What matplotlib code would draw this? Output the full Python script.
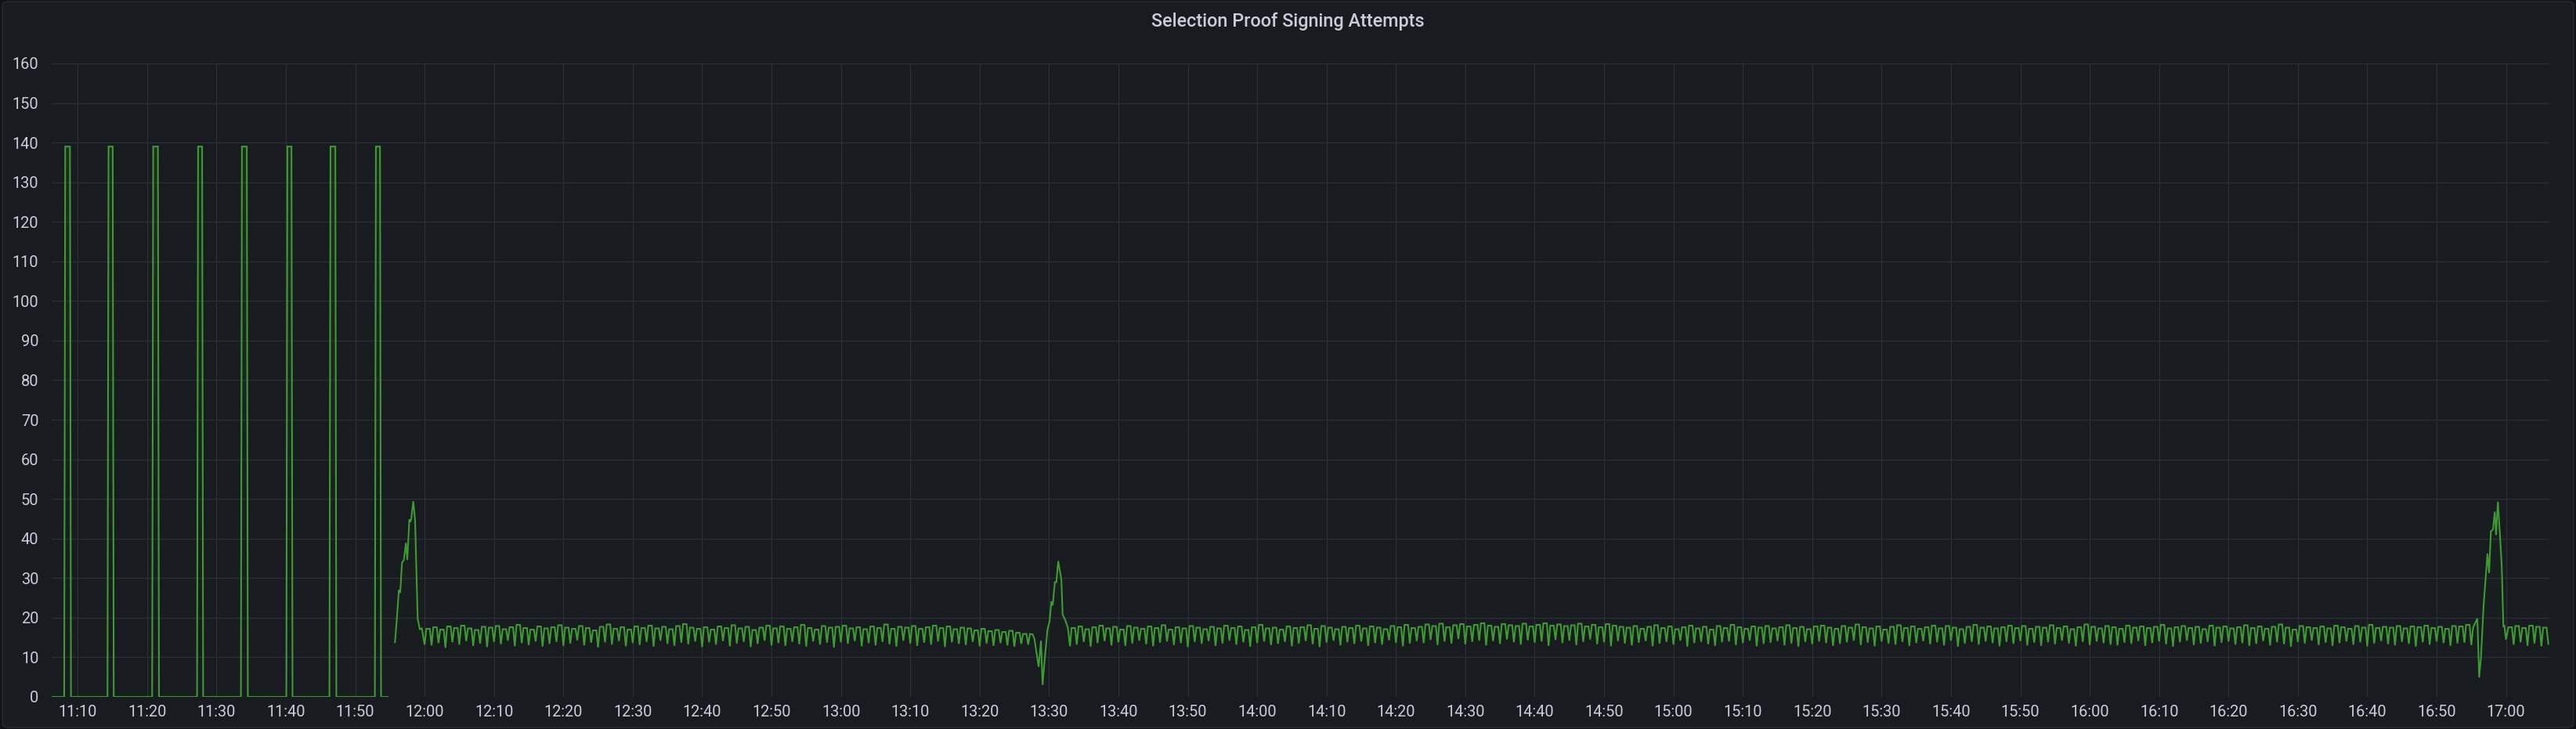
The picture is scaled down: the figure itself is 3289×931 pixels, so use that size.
import numpy as np
import pandas as pd
import matplotlib
matplotlib.use('Agg')
import matplotlib.pyplot as plt
import matplotlib.dates as mdates
from matplotlib.patches import FancyBboxPatch

plt.rcParams['font.family'] = ['Roboto', 'DejaVu Sans']

# all times are minutes after 11:00
base = pd.Timestamp('2024-01-01 11:00')
view_start, view_end = 6.25, 366.25
title = 'Selection Proof Signing Attempts'

# old metric: square pulses
pulse_rise = [8.05, 14.29, 20.73, 27.2, 33.52, 40.07, 46.28, 52.83]
pulse_fall = [9.03, 15.19, 21.71, 28.08, 34.52, 40.96, 47.28, 53.72]
pulse_height = 139
pulse_line_end = 54.68

# new metric: the three bumps
spike1_t = [55.73, 56.0, 56.29, 56.48, 56.74, 57.01, 57.31, 57.5, 57.8, 57.93, 58.06, 58.37, 58.63, 59.0, 59.31, 59.6, 60.0]
spike1_v = [13.8, 19.8, 27.0, 26.3, 33.9, 34.6, 38.9, 34.6, 44.8, 44.2, 44.8, 49.4, 44.5, 19.8, 17.1, 17.3, 13.2]
spike2_t = [147.25, 147.63, 147.9, 148.13, 148.5, 148.84, 149.07, 149.33, 149.78, 150.08, 150.34, 150.53, 150.84, 151.06, 151.32, 151.78, 151.96, 152.34, 152.71, 153.02]
spike2_v = [15.9, 15.8, 14.6, 11.9, 7.6, 14.2, 3.0, 8.6, 17.1, 19.1, 24.1, 23.1, 29.0, 29.0, 34.3, 29.6, 20.8, 19.4, 17.5, 12.8]
spike3_t = [355.25, 355.68, 355.87, 356.13, 356.39, 356.77, 357.33, 357.56, 357.82, 358.12, 358.38, 358.57, 358.83, 359.13, 359.39, 359.62, 359.77, 360.0]
spike3_v = [17.5, 19.1, 19.8, 4.9, 9.9, 23.1, 36.2, 31.3, 41.8, 42.3, 46.8, 40.9, 49.3, 40.9, 32.9, 17.8, 17.9, 14.5]

# steady part: one tooth per minute (plateau top, dip)
teeth_a_start = 60.25
tops_a = [17.2, 17.6, 17.0, 17.8, 17.4, 18.0, 17.3, 16.9, 17.7, 17.5,
          17.9, 17.1, 17.6, 18.2, 17.4, 17.0, 17.8, 17.3, 17.6, 18.1,
          17.5, 17.2, 17.9, 17.4, 16.8, 17.7, 18.3, 17.2, 17.6, 17.0,
          17.8, 17.4, 18.0, 17.3, 17.7, 17.1, 17.9, 18.4, 17.5, 17.2,
          17.6, 17.0, 17.8, 17.4, 18.1, 17.3, 17.7, 16.9, 17.5, 18.0,
          17.3, 17.8, 17.2, 17.6, 18.2, 17.4, 17.0, 17.9, 17.5, 17.7,
          18.0, 17.3, 17.6, 17.1, 17.8, 17.4, 18.3, 17.2, 17.7, 17.5,
          17.9, 17.2, 17.6, 18.0, 17.4, 17.8, 17.1, 17.5, 17.3, 16.8,
          17.2, 16.6, 16.9, 16.4, 16.7, 16.2, 15.9]
dips_a = [13.0, 13.6, 12.4, 13.8, 13.2, 14.1, 12.9, 13.5, 12.6, 13.9,
          13.3, 14.2, 12.8, 13.6, 13.1, 14.0, 12.7, 13.4, 13.9, 12.9,
          13.5, 14.3, 13.0, 13.7, 12.5, 13.8, 13.2, 14.1, 12.8, 13.6,
          13.1, 13.9, 12.7, 14.2, 13.4, 12.9, 13.7, 13.3, 14.0, 12.6,
          13.8, 13.2, 14.1, 12.8, 13.5, 13.9, 12.6, 13.4, 14.2, 13.0,
          13.6, 12.9, 13.9, 13.3, 12.7, 14.0, 13.2, 13.7, 12.5, 13.8,
          13.4, 14.1, 12.8, 13.6, 13.0, 13.9, 13.3, 12.7, 14.2, 13.5,
          12.9, 13.7, 13.2, 14.0, 12.6, 13.8, 13.4, 13.1, 13.9, 12.8,
          13.5, 12.9, 13.6, 13.0, 12.7, 13.4, 13.2]

teeth_b_start = 153.25
tops_b = [17.4, 17.8, 17.1, 17.6, 18.0, 17.3, 17.7, 17.0, 17.9, 17.5,
          17.2, 17.8, 17.4, 18.1, 17.0, 17.6, 17.3, 17.9, 17.5, 17.1,
          17.7, 17.3, 18.0, 17.4, 17.8, 16.9, 17.6, 18.2, 17.3, 17.5,
          17.0, 17.8, 17.4, 17.6, 18.1, 17.2, 17.9, 17.5, 17.1, 17.7,
          17.4, 18.0, 17.3, 17.8, 17.5, 17.1, 17.9, 17.6, 18.2, 17.4,
          17.7, 18.3, 17.9, 18.5, 17.6, 18.1, 18.4, 17.8, 18.2, 18.6,
          18.0, 17.7, 18.4, 18.1, 17.9, 18.5, 17.8, 18.2, 18.6, 18.0,
          18.3, 17.9, 18.1, 18.5, 17.8, 18.2, 17.6, 18.4, 18.0, 17.7,
          17.5, 17.9, 17.2, 17.7, 18.1, 17.4, 17.8, 17.1, 17.6, 18.0,
          17.3, 17.7, 17.0, 17.9, 17.4, 18.2, 17.6, 17.2, 17.8, 17.5,
          17.9, 17.3, 17.6, 18.1, 17.4, 17.7, 17.1, 17.8, 18.0, 17.5,
          17.2, 17.9, 17.5, 18.3, 17.6, 17.3, 17.8, 17.0, 17.7, 18.1,
          17.4, 17.8, 17.2, 17.6, 18.0, 17.3, 17.9, 17.5, 17.1, 17.7,
          18.2, 17.5, 17.8, 17.3, 17.6, 18.0, 17.4, 17.9, 17.2, 17.7,
          17.5, 18.1, 17.4, 17.8, 17.1, 17.6, 18.3, 17.7, 17.3, 17.9,
          17.6, 17.2, 18.0, 17.5, 17.8, 17.4, 17.7, 18.2, 17.3, 17.6,
          17.9, 17.4, 17.7, 17.1, 18.0, 17.5, 17.8, 17.3, 17.6, 18.1,
          17.4, 17.8, 17.2, 17.7, 18.3, 17.5, 17.0, 17.9, 17.6, 17.4,
          17.8, 17.3, 18.0, 17.6, 17.2, 17.9, 17.5, 18.2, 17.4, 17.7,
          17.5, 17.9, 17.3, 17.8, 17.6, 18.0, 17.4, 17.7, 17.2, 17.9,
          17.8, 18.2]
dips_b = [13.2, 13.9, 12.7, 13.6, 14.1, 13.0, 13.8, 12.9, 13.5, 14.2,
          13.3, 12.8, 13.7, 14.0, 13.1, 13.6, 12.6, 13.9, 13.4, 14.1,
          12.9, 13.5, 14.2, 13.2, 13.8, 12.7, 13.6, 14.0, 13.1, 13.4,
          13.9, 12.8, 13.5, 14.1, 13.3, 12.6, 13.7, 14.2, 13.0, 13.8,
          13.4, 14.0, 12.9, 13.6, 13.2, 14.3, 13.7, 12.8, 13.5, 14.1,
          13.6, 14.4, 13.1, 14.0, 13.5, 14.6, 13.3, 13.9, 14.2, 13.0,
          14.1, 13.4, 14.5, 13.8, 13.2, 14.3, 13.7, 14.0, 12.9, 14.4,
          13.6, 14.2, 13.1, 13.9, 14.5, 13.3, 13.8, 12.8, 14.1, 13.5,
          13.0, 13.7, 14.1, 12.8, 13.5, 13.9, 13.2, 14.2, 12.7, 13.6,
          13.9, 13.3, 12.9, 13.8, 14.0, 13.1, 13.6, 14.2, 12.8, 13.4,
          13.7, 14.1, 13.0, 13.5, 12.7, 13.9, 13.3, 14.0, 13.6, 12.9,
          13.4, 13.8, 14.2, 13.1, 13.7, 12.8, 14.0, 13.5, 13.2, 13.9,
          12.9, 13.6, 14.1, 13.3, 13.8, 13.0, 14.2, 12.7, 13.5, 13.9,
          13.2, 14.0, 13.6, 12.8, 13.9, 13.4, 14.1, 13.0, 13.7, 12.9,
          13.8, 13.3, 14.2, 13.5, 12.8, 13.9, 13.1, 14.0, 13.6, 13.2,
          13.0, 13.7, 13.4, 14.1, 12.9, 13.6, 14.0, 13.3, 12.7, 13.8,
          14.2, 13.1, 13.5, 13.9, 12.8, 13.7, 14.0, 13.2, 13.6, 12.9,
          13.4, 14.1, 13.0, 13.8, 13.3, 12.7, 13.9, 13.5, 14.2, 13.1,
          13.7, 12.9, 13.6, 14.0, 13.2, 13.8, 12.8, 13.5, 14.1, 13.3,
          13.0, 13.9, 13.4, 12.7, 13.8, 13.2, 14.0, 13.6, 12.9, 13.5,
          13.7, 13.1]

teeth_c_start = 360.35
tops_c = [17.6, 17.9, 17.4, 18.0, 17.7, 17.5]
dips_c = [13.2, 13.8, 12.9, 13.5, 12.8, 13.4]

line_color = '#3f9a34'
bg = '#181b1f'
text_color = '#ccccdc'
grid_color = '#2c2f35'


def teeth(start, tops, dips):
    t, v = [], []
    for i, (hi, lo) in enumerate(zip(tops, dips)):
        s = start + i
        t += [s, s + 0.5, s + 0.75]
        v += [hi, hi, lo]
    return t, v


def to_time(mins):
    return base + pd.to_timedelta(np.asarray(mins, dtype=float), unit='m')


# old series
old_t = [view_start]
old_v = [0]
for r, f in zip(pulse_rise, pulse_fall):
    old_t += [r, r + 0.15, f - 0.15, f]
    old_v += [0, pulse_height, pulse_height, 0]
old_t.append(pulse_line_end)
old_v.append(0)

# new series
ta, va = teeth(teeth_a_start, tops_a, dips_a)
tb, vb = teeth(teeth_b_start, tops_b, dips_b)
tc, vc = teeth(teeth_c_start, tops_c, dips_c)
new_t = spike1_t + ta + spike2_t + tb + spike3_t + tc
new_v = spike1_v + va + spike2_v + vb + spike3_v + vc

fig = plt.figure(figsize=(32.89, 9.31), dpi=100)
fig.patch.set_facecolor('#111217')
panel = FancyBboxPatch((0.001, 0.002), 0.998, 0.996, boxstyle='round,pad=0,rounding_size=0.004',
                       transform=fig.transFigure, facecolor=bg, edgecolor='#262930', linewidth=1.2,
                       zorder=-10)
fig.patches.append(panel)

ax = fig.add_axes([0.02007, 0.04404, 0.96959, 0.86896])
ax.set_facecolor(bg)

green = matplotlib.colors.to_rgb(line_color)
grad = np.zeros((256, 1, 4))
grad[..., 0], grad[..., 1], grad[..., 2] = green
grad[..., 3] = np.linspace(0, 0.16, 256).reshape(-1, 1)
x0 = mdates.date2num(to_time(view_start))
x1 = mdates.date2num(to_time(view_end))

for t, v in [(old_t, old_v), (new_t, new_v)]:
    tt = to_time(t)
    ax.plot(tt, v, color=line_color, lw=1.5, zorder=3, solid_joinstyle='miter')
    poly = ax.fill_between(tt, v, 0, color='none', lw=0)
    im = ax.imshow(grad, extent=[x0, x1, 0, 160], origin='lower', aspect='auto', zorder=2)
    im.set_clip_path(poly.get_paths()[0], transform=ax.transData)

ax.set_xlim(to_time(view_start), to_time(view_end))
ax.set_ylim(0, 160)
ax.set_yticks(np.arange(0, 161, 10))
ax.xaxis.set_major_locator(mdates.MinuteLocator(byminute=range(0, 60, 10)))
ax.xaxis.set_major_formatter(mdates.DateFormatter('%H:%M'))
ax.grid(True, color=grid_color, lw=0.9)
ax.set_axisbelow(True)
for s in ax.spines.values():
    s.set_visible(False)
ax.tick_params(axis='both', length=0, colors=text_color, labelsize=14.4)
ax.tick_params(axis='y', pad=12)
ax.tick_params(axis='x', pad=7.5)

fig.text(0.5, 1 - 27 / 931, title, ha='center', va='center', color=text_color,
         fontsize=16.8, fontweight='medium')

fig.savefig('out.png', dpi=100, facecolor=fig.get_facecolor())
